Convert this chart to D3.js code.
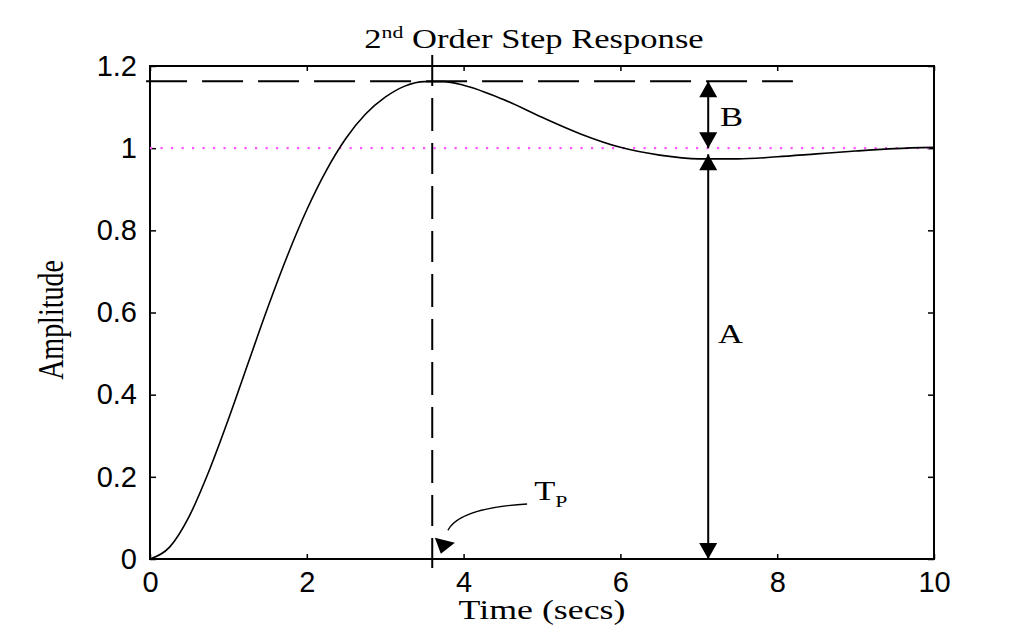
<!DOCTYPE html>
<html>
<head>
<meta charset="utf-8">
<script src="https://cdn.jsdelivr.net/npm/d3@7"></script>
<style>
  html, body { margin: 0; padding: 0; background: #fff; }
  svg { display: block; }
  .tick text { font-family: "Liberation Sans", Arial, sans-serif; font-size: 29px; fill: #000; }
  .serif { font-family: "Liberation Serif", "Times New Roman", serif; fill: #000; }
</style>
</head>
<body>
<svg id="chart" width="1031" height="630"></svg>
<script>
// Step response samples (time in seconds, amplitude)
const time = [0, 0.25, 0.5, 0.75, 1.0, 1.25, 1.5, 1.75, 2.0, 2.25, 2.5, 2.75, 3.0, 3.25, 3.5, 3.75,
              4.0, 4.5, 5.0, 5.5, 6.0, 6.5, 7.0, 7.5, 8.0, 8.5, 9.0, 9.5, 10.0];
const amplitude = [0, 0.029, 0.104, 0.213, 0.340, 0.476, 0.611, 0.737, 0.850, 0.946, 1.024, 1.083, 1.124, 1.151, 1.162, 1.162,
                   1.153, 1.119, 1.075, 1.034, 1.002, 0.983, 0.974, 0.974, 0.979, 0.986, 0.993, 0.999, 1.002];

// Axis ticks
const xTicks = [0, 2, 4, 6, 8, 10];
const yTicks = [0, 0.2, 0.4, 0.6, 0.8, 1, 1.2];

// Annotation values
const peakTime = 3.6;        // T_p
const peakValue = 1.163;     // overshoot peak
const finalValue = 1.0;      // steady state
const overshootLineEnd = 8.2;
const arrowTime = 7.12;      // where A and B are measured
const troughValue = 0.985;

const svg = d3.select("#chart");
const x = d3.scaleLinear().domain([0, 10]).range([150, 934]);
const y = d3.scaleLinear().domain([0, 1.2]).range([559, 66]);

// stretched serif text helper
const SX = 1.28;
function serifText(px, py, size, anchor, rotate) {
  const g = svg.append("g")
    .attr("transform", `translate(${px},${py}) scale(${SX},1)` + (rotate ? ` rotate(${rotate})` : ""));
  return g.append("text").attr("class", "serif")
    .attr("font-size", size).attr("text-anchor", anchor);
}

// Axes: ticks pointing inward, labels on bottom and left only
const fmt = d => (d === 0 ? "0" : d3.format("~g")(d));
svg.append("g").attr("transform", `translate(0,${y(0)})`)
  .call(d3.axisBottom(x).tickValues(xTicks).tickSizeInner(-5).tickSizeOuter(0).tickPadding(12).tickFormat(fmt));
svg.append("g").attr("transform", `translate(${x(0)},0)`)
  .call(d3.axisLeft(y).tickValues(yTicks).tickSizeInner(-6).tickSizeOuter(0).tickPadding(13).tickFormat(fmt));
svg.append("g").attr("transform", `translate(0,${y(1.2)})`)
  .call(d3.axisTop(x).tickValues(xTicks).tickSizeInner(-5).tickSizeOuter(0).tickFormat(""));
svg.append("g").attr("transform", `translate(${x(10)},0)`)
  .call(d3.axisRight(y).tickValues(yTicks).tickSizeInner(-6).tickSizeOuter(0).tickFormat(""));
svg.selectAll(".domain").remove();
svg.selectAll(".tick line").attr("stroke", "#000").attr("stroke-width", 1.5);

// Plot box
svg.append("rect")
  .attr("x", x(0)).attr("y", y(1.2))
  .attr("width", x(10) - x(0)).attr("height", y(0) - y(1.2))
  .attr("fill", "none").attr("stroke", "#000").attr("stroke-width", 2);

// Steady-state reference (dotted magenta)
svg.append("line")
  .attr("x1", x(0)).attr("x2", x(10)).attr("y1", y(finalValue)).attr("y2", y(finalValue))
  .attr("stroke", "#ff55ff").attr("stroke-width", 2.2).attr("stroke-dasharray", "2.2,8.3");

// Peak overshoot line (dashed)
svg.append("line")
  .attr("x1", x(-0.05)).attr("x2", x(overshootLineEnd)).attr("y1", y(peakValue)).attr("y2", y(peakValue))
  .attr("stroke", "#000").attr("stroke-width", 2).attr("stroke-dasharray", "41,15");

// Peak time line (dashed, running past both axes)
svg.append("line")
  .attr("x1", x(peakTime)).attr("x2", x(peakTime)).attr("y1", y(1.227)).attr("y2", y(-0.022))
  .attr("stroke", "#000").attr("stroke-width", 2).attr("stroke-dasharray", "31,12,33,12");

// Response curve
const pts = time.map((t, i) => [t, amplitude[i]]);
svg.append("path")
  .datum(pts)
  .attr("d", d3.line().x(d => x(d[0])).y(d => y(d[1])).curve(d3.curveMonotoneX))
  .attr("fill", "none").attr("stroke", "#000").attr("stroke-width", 1.6);

// Vertical measuring arrows
function arrowHead(ax, ay, dir) { // dir: -1 up, +1 down (direction tip points)
  const len = 16, half = 9;
  svg.append("path")
    .attr("d", `M${ax},${ay} L${ax - half},${ay - dir * len} L${ax + half},${ay - dir * len} Z`)
    .attr("fill", "#000");
}
const ax = x(arrowTime);
svg.append("line").attr("x1", ax).attr("x2", ax).attr("y1", y(peakValue)).attr("y2", y(finalValue))
  .attr("stroke", "#000").attr("stroke-width", 2);
arrowHead(ax, y(peakValue), -1);
arrowHead(ax, y(finalValue), 1);
svg.append("line").attr("x1", ax).attr("x2", ax).attr("y1", y(troughValue)).attr("y2", y(0))
  .attr("stroke", "#000").attr("stroke-width", 2);
arrowHead(ax, y(troughValue), -1);
arrowHead(ax, y(0), 1);

// Curved pointer to T_p
const p0 = [x(4.81), y(0.134)];
const p1 = [x(3.95), y(0.124)];
const p2 = [x(3.80), y(0.07)];
const tip = [x(3.71), y(0.013)];
svg.append("path")
  .attr("d", `M${p0[0]},${p0[1]} Q${p1[0]},${p1[1]} ${p2[0]},${p2[1]}`)
  .attr("fill", "none").attr("stroke", "#000").attr("stroke-width", 1.4);
svg.append("path")
  .attr("d", `M${tip[0]},${tip[1]} L${tip[0] - 6},${tip[1] - 16} L${tip[0] + 14},${tip[1] - 11} Z`)
  .attr("fill", "#000");

// Labels
const title = serifText(x(5) - 8, 48, 27, "middle");
title.append("tspan").text("2");
title.append("tspan").attr("font-size", 17).attr("dy", -10).text("nd");
title.append("tspan").attr("dy", 10).text(" Order Step Response");

serifText(x(5), 619, 28, "middle").text("Time (secs)");
serifText(63, 320, 28, "middle", -90).text("Amplitude");
serifText(720, 126, 27, "start").text("B");
serifText(718, 343, 27, "start").text("A");

const tp = serifText(x(4.9), y(0.1435), 27, "start");
tp.append("tspan").text("T");
tp.append("tspan").attr("font-size", 17).attr("dy", 7).text("P");
</script>
</body>
</html>
